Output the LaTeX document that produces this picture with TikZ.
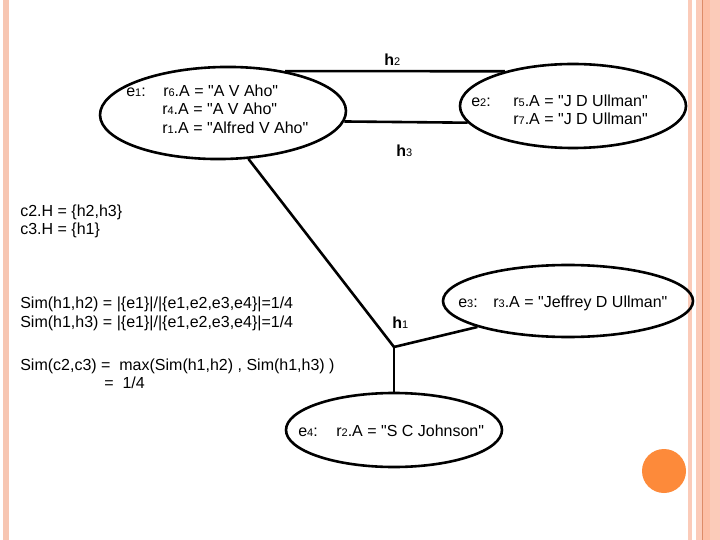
\documentclass[tikz,border=0pt]{standalone}
\usepackage{fontspec}
\setmainfont{Liberation Sans}[Ligatures=TeXOff]
\usetikzlibrary{shapes.geometric}

\definecolor{slidepink}{HTML}{F7C6B2}
\definecolor{bandpink}{HTML}{FBCBB9}
\definecolor{bandpeach}{HTML}{FDBFA6}
\definecolor{bandline}{HTML}{DE8C68}
\definecolor{dotorange}{HTML}{FD8A3A}

\newcommand\sdig[1]{{\fontsize{11}{12}\selectfont #1}}

\begin{document}
\begin{tikzpicture}[x=1pt,y=-1pt,line width=2.6pt,
    ent node/.style={ellipse,draw,line width=2.6pt,inner sep=0pt},
    txt node/.style={anchor=base west,inner sep=0pt,font=\fontsize{16}{18}\selectfont},
    link/.style={line width=2.6pt,line join=miter}]

    \useasboundingbox (0,0) rectangle (720,540);
    \fill[white] (0,0) rectangle (720,540);

    % slide frame
    \fill[slidepink] (3,0) rectangle (9,540);
    \fill[bandpink] (688,0) rectangle (692,540);
    \fill[bandpink] (696,0) rectangle (720,540);
    \fill[bandpeach] (703,0) rectangle (710,540);
    \fill[bandline] (701.5,0) rectangle (703,540);
    \fill[dotorange] (664,471) circle (22);

    % entities
    \node[ent node, minimum width=246, minimum height=92, rotate=1] (e1) at (223,113) {};
    \node[ent node, minimum width=226, minimum height=84] (e2) at (573,106) {};
    \node[ent node, minimum width=250, minimum height=72] (e3) at (568,301) {};
    \node[ent node, minimum width=216, minimum height=74] (e4) at (394,430) {};
    \coordinate (j1) at (394,347);

    \node[txt node] (e1lab) at (125,97) {e\sdig{1}:};
    \node[txt node] (r6) at (162,97) {r\sdig{6}.A = "A V Aho"};
    \node[txt node] (r4) at (161,115) {r\sdig{4}.A = "A V Aho"};
    \node[txt node] (r1) at (161,134) {r\sdig{1}.A = "Alfred V Aho"};

    \node[txt node] (e2lab) at (470,107) {e\sdig{2}:};
    \node[txt node] (r5) at (512,107) {r\sdig{5}.A = "J D Ullman"};
    \node[txt node] (r7) at (512,125) {r\sdig{7}.A = "J D Ullman"};

    \node[txt node] (e3lab) at (457,307) {e\sdig{3}:};
    \node[txt node] (r3) at (492,307) {r\sdig{3}.A = "Jeffrey D Ullman"};

    \node[txt node] (e4lab) at (297,436) {e\sdig{4}:};
    \node[txt node] (r2) at (335,436) {r\sdig{2}.A = "S C Johnson"};

    % hyperedges
    \node[txt node] (h2) at (383,66) {\textbf{h}\sdig{2}};
    \node[txt node] (h3) at (395,157) {\textbf{h}\sdig{3}};
    \node[txt node] (h1) at (391,328) {\textbf{h}\sdig{1}};

    \draw[link] (e1.33.2) -- (e2.153);
    \draw[link] (e1.-5.8) -- (e2.189);
    \draw[link] (e1.-62.9) -- (j1) -- (e3.196);
    \draw[link] (j1) -- (e4.north);

    % similarity text
    \node[txt node] (c2) at (19,217) {c2.H = \{h2,h3\}};
    \node[txt node] (c3) at (19,235) {c3.H = \{h1\}};
    \node[txt node] (s12) at (19,308) {Sim(h1,h2) = |\{e1\}|/|\{e1,e2,e3,e4\}|=1/4};
    \node[txt node] (s13) at (19,327) {Sim(h1,h3) = |\{e1\}|/|\{e1,e2,e3,e4\}|=1/4};
    \node[txt node] (sc) at (19,370) {Sim(c2,c3) = \ max(Sim(h1,h2) , Sim(h1,h3) )};
    \node[txt node] (sv) at (103,388) {= \ 1/4};
\end{tikzpicture}
\end{document}
